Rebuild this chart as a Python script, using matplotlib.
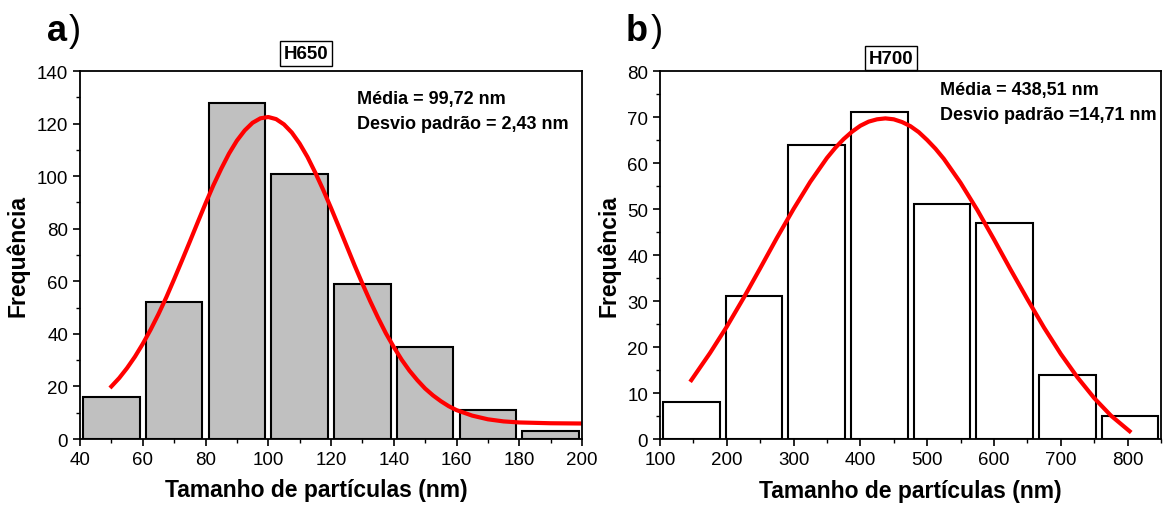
import matplotlib.pyplot as plt
from matplotlib.ticker import MultipleLocator

plt.rcParams['font.family'] = ['Liberation Sans', 'DejaVu Sans']

# painel a) H650
centros_a = [50, 70, 90, 110, 130, 150, 170, 190]
freq_a = [16, 52, 128, 101, 59, 35, 11, 3]
ajuste_x_a = [50, 52.5, 55, 57.5, 60, 62.5, 65, 67.5, 70, 72.5, 75, 77.5, 80, 82.5,
              85, 87.5, 90, 92.5, 95, 97.5, 100, 102.5, 105, 107.5, 110, 112.5, 115,
              117.5, 120, 122.5, 125, 127.5, 130, 132.5, 135, 137.5, 140, 142.5, 145,
              147.5, 150, 152.5, 155, 157.5, 160, 165, 170, 175, 180, 190, 200]
ajuste_y_a = [20.0, 23.2, 27.0, 31.3, 36.2, 41.6, 47.5, 53.9, 60.8, 67.9, 75.1, 82.4,
              89.6, 96.5, 102.8, 108.6, 113.5, 117.4, 120.3, 122.0, 122.5, 121.7,
              119.7, 116.6, 112.4, 107.3, 101.3, 94.8, 87.9, 80.7, 73.4, 66.1, 59.1,
              52.4, 46.1, 40.2, 35.0, 30.2, 26.0, 22.4, 19.2, 16.6, 14.4, 12.5, 11.0,
              8.9, 7.5, 6.7, 6.3, 6.0, 5.9]

# painel b) H700
centros_b = [147, 241, 334.5, 428.5, 522, 616, 710, 803.5]
freq_b = [8, 31, 64, 71, 51, 47, 14, 5]
ajuste_x_b = [147, 175, 200, 225, 250, 275, 300, 325, 350, 362.5, 375, 387.5, 400,
              412.5, 425, 437.5, 450, 462.5, 475, 487.5, 500, 512.5, 525, 550, 575,
              600, 625, 650, 675, 700, 725, 750, 775, 803]
ajuste_y_b = [12.8, 18.7, 24.4, 30.6, 37.1, 43.7, 50.0, 55.9, 61.1, 63.3, 65.2, 66.8,
              68.1, 69.0, 69.5, 69.7, 69.5, 68.9, 68.0, 66.7, 65.0, 63.1, 60.9, 55.7,
              49.8, 43.4, 36.8, 30.4, 24.2, 18.5, 13.4, 8.9, 5.1, 1.7]

fig = plt.figure(figsize=(11.68, 5.06), dpi=100)
ax1 = fig.add_axes([0.0685, 0.1304, 0.4298, 0.7273])
ax2 = fig.add_axes([0.565, 0.1304, 0.429, 0.7273])

ax1.bar(centros_a, freq_a, width=18, color="#c0c0c0", edgecolor="black", linewidth=1.5)
ax1.plot(ajuste_x_a, ajuste_y_a, color="red", linewidth=3)
ax1.set_xlim(40, 200)
ax1.set_ylim(0, 140)
ax1.xaxis.set_major_locator(MultipleLocator(20))
ax1.xaxis.set_minor_locator(MultipleLocator(10))
ax1.yaxis.set_major_locator(MultipleLocator(20))
ax1.yaxis.set_minor_locator(MultipleLocator(10))

ax2.bar(centros_b, freq_b, width=84.5, color="white", edgecolor="black", linewidth=1.5)
ax2.plot(ajuste_x_b, ajuste_y_b, color="red", linewidth=3)
ax2.set_xlim(100, 850)
ax2.set_ylim(0, 80)
ax2.xaxis.set_major_locator(MultipleLocator(100))
ax2.xaxis.set_minor_locator(MultipleLocator(50))
ax2.yaxis.set_major_locator(MultipleLocator(10))
ax2.yaxis.set_minor_locator(MultipleLocator(5))

for ax in (ax1, ax2):
    ax.tick_params(which="major", direction="out", length=5, width=1.2, labelsize=13.5)
    ax.tick_params(which="minor", direction="out", length=3, width=1.0)
    for s in ax.spines.values():
        s.set_linewidth(1.3)
    ax.set_xlabel("Tamanho de partículas (nm)", fontsize=16.5, fontweight="bold", labelpad=8)
    ax.set_ylabel("Frequência", fontsize=16.5, fontweight="bold", labelpad=5)

# o rótulo x do painel a) fica um pouco à esquerda
ax1.xaxis.set_label_coords(0.47, -0.105)

caixa = dict(boxstyle="square,pad=0.2", facecolor="white", edgecolor="black", linewidth=1)
ax1.text(0.45, 1.024, "H650", transform=ax1.transAxes, ha="center", va="bottom",
         fontsize=13.5, fontweight="bold", bbox=caixa)
ax2.text(0.461, 1.012, "H700", transform=ax2.transAxes, ha="center", va="bottom",
         fontsize=13.5, fontweight="bold", bbox=caixa)

ax1.text(0.552, 0.924, "Média = 99,72 nm", transform=ax1.transAxes, va="center",
         fontsize=13, fontweight="bold")
ax1.text(0.552, 0.856, "Desvio padrão = 2,43 nm", transform=ax1.transAxes, va="center",
         fontsize=13, fontweight="bold")
ax2.text(0.559, 0.951, "Média = 438,51 nm", transform=ax2.transAxes, va="center",
         fontsize=13, fontweight="bold")
ax2.text(0.559, 0.883, "Desvio padrão =14,71 nm", transform=ax2.transAxes, va="center",
         fontsize=13, fontweight="bold")

fig.text(0.040, 0.938, "a", fontsize=26, fontweight="bold", ha="left", va="center")
fig.text(0.059, 0.938, ")", fontsize=26, ha="left", va="center")
fig.text(0.536, 0.938, "b", fontsize=26, fontweight="bold", ha="left", va="center")
fig.text(0.557, 0.938, ")", fontsize=26, ha="left", va="center")

plt.savefig("out.png", dpi=100)
